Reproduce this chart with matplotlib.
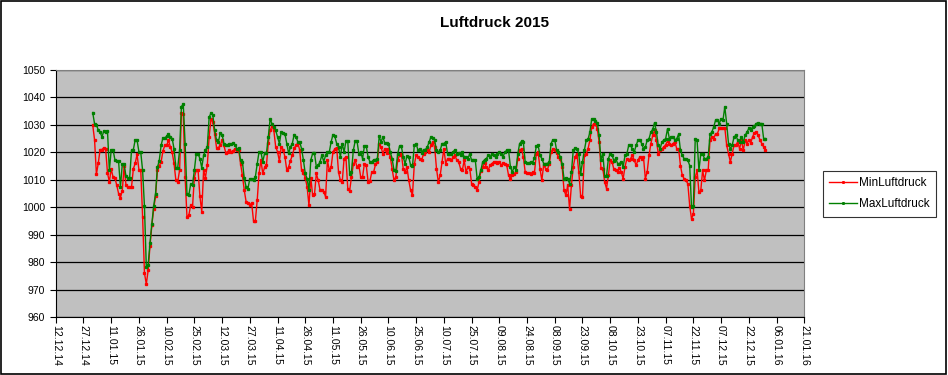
import numpy as np
import pandas as pd
from matplotlib import pyplot as plt
import matplotlib.dates as mdates
from matplotlib.patches import Rectangle

plt.rcParams['font.family'] = ['Liberation Sans', 'DejaVu Sans']

# Tagesminimum Luftdruck 2015 (hPa)
min_jan_feb = [1030, 1024.6, 1012, 1016, 1021, 1021, 1021.7, 1021.2, 1012.5, 1009.2,
               1014, 1011, 1010.8, 1008, 1005, 1003.5, 1006, 1015, 1008, 1007.2,
               1007.4, 1007.4, 1014, 1016, 1019.3, 1013.7, 1013.5, 996.4, 976, 972,
               977, 986, 993.4, 999.5, 1004, 1013.5, 1015, 1016.5, 1020.5, 1022.5,
               1022.5, 1024.4, 1022, 1020, 1016, 1009.8, 1009.2, 1013.5, 1034.3, 1034,
               1011, 996.5, 997, 1000.7, 1000, 1010.8, 1013.5, 1013.5, 1004, 998.3,
               1013.5, 1010.8]
min_mar_may = [1015.3, 1025.6, 1032.2, 1031.0, 1026.8, 1021.7, 1021.7, 1022.5, 1024.4, 1022.5,
               1019.8, 1020.2, 1020.8, 1020.2, 1020.5, 1021.3, 1021.0, 1020.8, 1015.8, 1011.6,
               1006.2, 1002.0, 1001.5, 1000.8, 1001.5, 995.0, 995.0, 1002.5, 1012.3, 1017.2,
               1012.3, 1014.5, 1015.3, 1023.3, 1028.0, 1029.5, 1028.0, 1022.0, 1020.2, 1016.8,
               1022.0, 1021.0, 1018.4, 1013.5, 1014.7, 1017.0, 1018.9, 1021.4, 1022.6, 1023.3,
               1020.8, 1013.4, 1012.5, 1010.8, 1007.4, 1000.7, 1010.8, 1004.3, 1004.7, 1012.3,
               1009.8, 1006.2, 1006.2, 1005.6]
min_may_jul = [1003.8, 1017.1, 1013.5, 1014.7, 1020.1, 1021.3, 1021.7, 1012.8, 1009.8, 1009.2,
               1017.7, 1018.3, 1006.8, 1005.9, 1011.0, 1015.6, 1017.1, 1014.7, 1015.3, 1011.0,
               1011.0, 1015.9, 1015.3, 1009.2, 1009.6, 1012.8, 1012.8, 1015.6, 1016.5, 1023.2,
               1021.9, 1019.5, 1021.3, 1019.8, 1021.3, 1018.3, 1014.1, 1009.8, 1011.0,
               1017.1, 1018.9, 1019.5, 1014.1, 1012.8, 1014.7, 1009.8, 1006.2, 1004.4, 1015.6,
               1018.9, 1018.3, 1017.7, 1017.1, 1019.5, 1020.1, 1020.7, 1020.1, 1022.5, 1023.8,
               1021.9, 1014.1, 1009.2, 1011.6, 1016.5]
min_jul_sep = [1021.3, 1015.9, 1017.7, 1017.7, 1017.1, 1018.3, 1018.9, 1017.1, 1016.5, 1014.1,
               1013.5, 1017.1, 1012.8, 1014.7, 1014.1, 1008.6, 1008.0, 1007.4, 1006.2, 1009.2,
               1013.2, 1014.7, 1016.1, 1014.7, 1013.5, 1015.3, 1015.9, 1016.5, 1016.5, 1016.1,
               1016.5, 1015.3, 1016.1, 1015.9, 1015.3, 1011.6, 1010.4, 1011.6, 1012.2,
               1012.8, 1017.7, 1020.7, 1021.3, 1018.3, 1012.8, 1012.5, 1012.5, 1012.2, 1012.8,
               1012.5, 1019.5, 1020.1, 1014.1, 1009.8, 1015.5, 1014.1, 1013.5, 1015.9,
               1020.1, 1021.3, 1021.0, 1019.9, 1018.3]
min_sep_nov = [1017.7, 1014.7, 1006.2, 1004.4, 1008.0, 999.3, 1008.0, 1014.7, 1018.3, 1019.5,
               1012.8, 1004.1, 1003.8, 1018.9, 1019.5, 1021.3, 1024.4, 1029.2, 1030.4, 1030.4,
               1028.6, 1023.8, 1014.3, 1014.1, 1009.2, 1006.8, 1011.6, 1017.1, 1016.5,
               1013.8, 1013.5, 1012.8, 1014.3, 1012.8, 1010.4, 1014.7, 1017.7, 1017.1, 1017.7,
               1018.9, 1017.1, 1015.3, 1017.1, 1018.3, 1017.7, 1018.3, 1010.4, 1012.8, 1018.9,
               1023.2, 1026.2, 1028.0, 1024.4, 1019.5, 1020.7, 1021.3, 1021.9, 1022.8, 1024.0,
               1023.2, 1022.5, 1023.2, 1023.8]
min_nov_dec = [1021.3, 1021.3, 1015.2, 1011.6, 1010.4, 1009.8, 1008.5, 1000.6, 995.7, 997.6,
               1011.0, 1013.4, 1005.5, 1006.1, 1013.4, 1009.8, 1013.4, 1013.4, 1024.6, 1025.6,
               1025.0, 1026.8, 1026.8, 1028.7, 1028.7, 1028.7, 1029.0, 1022.6, 1019.5,
               1016.5, 1019.5, 1022.6, 1022.6, 1023.8, 1021.3, 1024.4, 1020.7, 1024.4, 1023.2,
               1024.6, 1023.4, 1025.6, 1027.1, 1027.4, 1026.2, 1024.6, 1023.2, 1022.0, 1021.0]

# Tagesmaximum Luftdruck 2015 (hPa)
max_jan_feb = [1034.5, 1030.4, 1030, 1028.2, 1027.4, 1025.6, 1027.8, 1027.5, 1027.8, 1013.4,
               1020.8, 1021, 1017.3, 1017, 1016.7, 1007.4, 1015.6, 1015.6, 1011.3, 1010.5,
               1010.8, 1020.8, 1021, 1024.6, 1024.4, 1020.2, 1020, 1013.4, 1000.3, 978.3,
               979, 987, 994, 1000.5, 1005, 1014.5, 1017, 1022.5, 1025.3, 1025.3,
               1025.8, 1026.8, 1025.6, 1025, 1021.3, 1014.4, 1014.4, 1020.7, 1036.7, 1037.5,
               1023.2, 1004.7, 1004.4, 1008.4, 1008, 1013.5, 1019.5, 1019.5, 1017.7, 1014.4,
               1018.9, 1020.8]
max_mar_may = [1022.0, 1032.8, 1034.3, 1033.5, 1028.0, 1024.4, 1023.8, 1027.0, 1026.5, 1023.2,
               1022.6, 1022.6, 1023.2, 1023.0, 1023.4, 1022.6, 1021.3, 1021.5, 1017.2, 1016.6,
               1010.5, 1007.4, 1006.8, 1010.4, 1010.4, 1009.8, 1011.0, 1015.8, 1020.2, 1020.2,
               1016.6, 1019.6, 1019.6, 1025.6, 1032.2, 1030.4, 1029.4, 1028.0, 1025.6, 1023.2,
               1027.4, 1027.0, 1026.8, 1023.2, 1019.6, 1022.0, 1023.2, 1026.5, 1025.6, 1023.8,
               1023.8, 1021.3, 1017.2, 1012.3, 1010.4, 1006.2, 1017.2, 1019.6, 1019.6, 1014.7,
               1015.3, 1016.6, 1019.0, 1016.6]
max_may_jul = [1018.9, 1020.1, 1020.1, 1023.8, 1026.5, 1025.8, 1023.2, 1021.9, 1018.3, 1023.2,
               1020.1, 1024.1, 1024.1, 1012.2, 1012.8, 1020.7, 1024.1, 1024.1, 1019.5, 1020.1,
               1017.7, 1022.2, 1022.2, 1018.3, 1016.5, 1016.5, 1017.3, 1017.3, 1017.7, 1025.8,
               1023.8, 1025.6, 1023.4, 1023.4, 1023.2, 1020.1, 1017.7, 1013.5, 1013.2,
               1019.5, 1022.2, 1022.2, 1018.3, 1015.9, 1018.5, 1018.3, 1015.3, 1014.9, 1022.5,
               1023.2, 1020.7, 1021.3, 1019.8, 1021.0, 1021.0, 1021.9, 1023.8, 1025.6, 1025.3,
               1024.4, 1020.7, 1020.1, 1020.7, 1023.2]
max_jul_sep = [1023.2, 1023.8, 1019.5, 1019.5, 1019.5, 1020.1, 1021.0, 1019.5, 1019.8, 1018.9,
               1020.1, 1018.3, 1018.3, 1017.7, 1019.5, 1017.1, 1017.3, 1017.1, 1010.4, 1011.0,
               1013.5, 1016.5, 1017.3, 1017.7, 1018.9, 1018.3, 1019.5, 1018.9, 1018.3, 1019.5,
               1020.1, 1019.5, 1018.3, 1020.1, 1020.7, 1020.7, 1014.7, 1012.8, 1014.7,
               1013.7, 1019.5, 1023.2, 1024.0, 1023.8, 1016.5, 1016.1, 1016.1, 1016.5, 1016.1,
               1018.1, 1022.2, 1022.5, 1018.9, 1017.7, 1015.9, 1015.9, 1015.9, 1016.5,
               1023.2, 1024.6, 1024.6, 1020.7, 1020.1]
max_sep_nov = [1018.2, 1015.9, 1010.4, 1010.7, 1010.4, 1008.6, 1012.8, 1020.7, 1021.6, 1021.3,
               1019.5, 1012.2, 1016.5, 1020.7, 1024.4, 1024.7, 1027.4, 1032.2, 1032.0, 1031.3,
               1030.8, 1026.2, 1017.1, 1019.5, 1011.4, 1011.4, 1017.7, 1019.5, 1019.2,
               1016.7, 1017.9, 1015.9, 1015.9, 1016.5, 1014.7, 1018.9, 1019.5, 1022.5, 1022.5,
               1021.3, 1020.1, 1022.5, 1024.4, 1024.6, 1023.2, 1021.3, 1021.9, 1024.4, 1025.0,
               1027.4, 1028.4, 1030.8, 1027.4, 1022.5, 1021.3, 1023.8, 1024.4, 1025.0, 1028.6,
               1025.0, 1025.6, 1025.6, 1024.5]
max_nov_dec = [1025.0, 1026.6, 1020.7, 1018.9, 1017.7, 1017.7, 1017.1, 1015.2, 1000.0, 1000.6,
               1025.0, 1024.4, 1013.4, 1019.5, 1019.5, 1017.7, 1017.7, 1018.3, 1026.6, 1027.4,
               1029.3, 1031.7, 1031.7, 1030.5, 1032.3, 1031.7, 1036.6, 1030.5, 1023.2,
               1021.3, 1022.6, 1025.6, 1026.2, 1024.4, 1023.8, 1025.6, 1023.8, 1026.2, 1027.4,
               1028.7, 1028.0, 1029.3, 1029.5, 1030.5, 1030.7, 1030.5, 1030.5, 1025.0, 1025.0]

min_luftdruck = (min_jan_feb + min_mar_may + min_may_jul + min_jul_sep
                 + min_sep_nov + min_nov_dec)
max_luftdruck = (max_jan_feb + max_mar_may + max_may_jul + max_jul_sep
                 + max_sep_nov + max_nov_dec)
tage = pd.date_range('2015-01-01', periods=len(min_luftdruck), freq='D')

fig = plt.figure(figsize=(9.48, 3.75), dpi=100)
fig.patch.set_facecolor('white')
ax = fig.add_axes([0.0588, 0.1547, 0.7896, 0.6586])
ax.set_facecolor('#C0C0C0')

ax.plot(tage, min_luftdruck, color='#FF0000', lw=1, marker='s', ms=1.4,
        label='MinLuftdruck')
ax.plot(tage, max_luftdruck, color='#008000', lw=1, marker='s', ms=1.4,
        label='MaxLuftdruck')

#======================== Achsen
ax.set_ylim(960, 1050)
ax.set_yticks(np.arange(960, 1051, 10))
ax.yaxis.grid(True, color='black', lw=0.9)
ax.set_axisbelow(True)

start = pd.Timestamp('2014-12-12')
ende = pd.Timestamp('2016-01-21')
ax.set_xlim(start, ende)
ax.set_xticks(pd.date_range(start, ende, freq='15D'))
ax.xaxis.set_major_formatter(mdates.DateFormatter('%d.%m.%y'))
plt.setp(ax.get_xticklabels(), rotation=270, ha='center', va='top')

ax.tick_params(axis='both', direction='out', length=4, width=0.8,
               labelsize=7.5, colors='black')
ax.tick_params(axis='x', pad=2)
for s in ax.spines.values():
    s.set_color('black')
    s.set_linewidth(0.8)
ax.spines['top'].set_color('#808080')
ax.spines['right'].set_color('#808080')

fig.text(0.522, 0.938, 'Luftdruck 2015', ha='center', va='center',
         fontsize=11, fontweight='bold')

leg = ax.legend(loc='center left', bbox_to_anchor=(0.868, 0.483),
                bbox_transform=fig.transFigure, borderaxespad=0,
                frameon=True, fancybox=False,
                fontsize=8.5, handlelength=2.3, handletextpad=0.2,
                borderpad=0.55, labelspacing=0.75, markerscale=0.8)
leg.get_frame().set_edgecolor('black')
leg.get_frame().set_linewidth(0.8)

# Rahmen um das ganze Diagramm
fig.patches.append(Rectangle((0.001, 0.002), 0.997, 0.996, transform=fig.transFigure,
                             fill=False, edgecolor='black', lw=1.2))

plt.savefig('out.png', dpi=100)
